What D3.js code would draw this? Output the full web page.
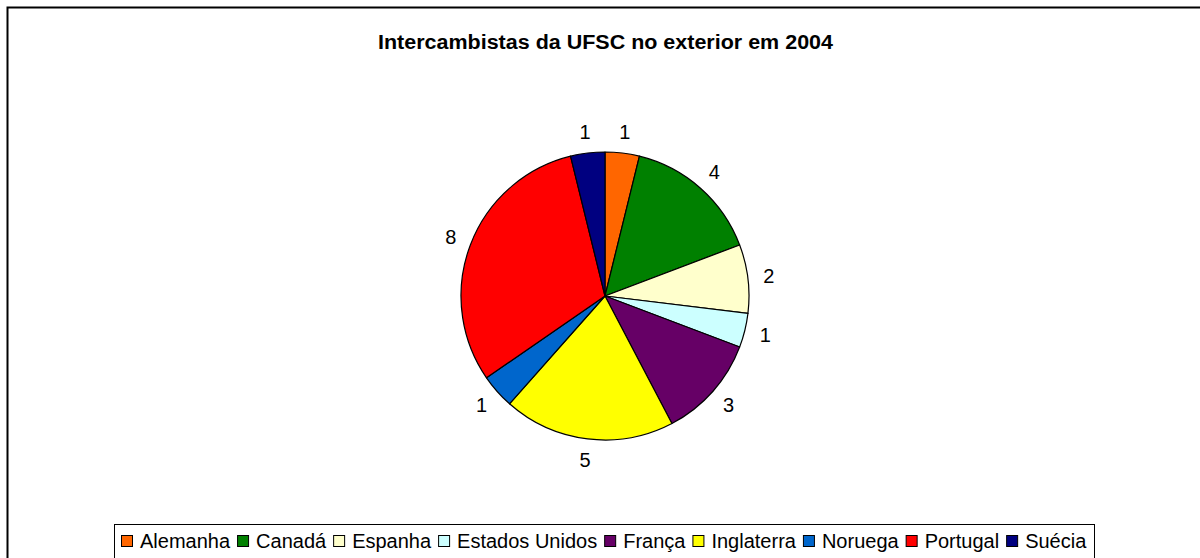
<!DOCTYPE html>
<html>
<head>
<meta charset="utf-8">
<script src="https://cdn.jsdelivr.net/npm/d3@7"></script>
<style>
  body { margin: 0; background: #fff; }
  text { font-family: "Liberation Sans", Arial, sans-serif; fill: #000; }
</style>
</head>
<body>
<div id="chart"></div>
<script>
// data
var countries = ["Alemanha", "Canadá", "Espanha", "Estados Unidos", "França", "Inglaterra", "Noruega", "Portugal", "Suécia"];
var values = [1, 4, 2, 1, 3, 5, 1, 8, 1];
var colors = ["#ff6600", "#008000", "#ffffcc", "#ccffff", "#660066", "#ffff00", "#0066cc", "#ff0000", "#000080"];
var title = "Intercambistas da UFSC no exterior em 2004";

var width = 1200, height = 558;
var cx = 605, cy = 296, radius = 144;

var svg = d3.select("#chart")
  .append("svg")
    .attr("width", width)
    .attr("height", height);

// outer chart frame (runs off the right and bottom)
svg.append("rect")
  .attr("x", 7.5).attr("y", 7.5)
  .attr("width", 1210).attr("height", 600)
  .attr("fill", "#fff")
  .attr("stroke", "#000")
  .attr("stroke-width", 2);

svg.append("text")
  .attr("x", 378).attr("y", 49)
  .attr("textLength", 455)
  .attr("lengthAdjust", "spacingAndGlyphs")
  .style("font-size", "19.5px")
  .style("font-weight", "bold")
  .text(title);

var data = countries.map(function(c, i) { return {name: c, value: values[i], color: colors[i]}; });

var pie = d3.pie()
  .sort(null)
  .value(function(d) { return d.value; });

var arc = d3.arc().innerRadius(0).outerRadius(radius);
var labelArc = d3.arc().innerRadius(radius + 21).outerRadius(radius + 21);

var g = svg.append("g")
  .attr("transform", "translate(" + cx + "," + cy + ")");

var arcs = pie(data);

g.selectAll("path")
  .data(arcs)
  .enter()
  .append("path")
    .attr("d", arc)
    .attr("fill", function(d) { return d.data.color; })
    .attr("stroke", "#000")
    .attr("stroke-width", 1.2)
    .attr("stroke-linejoin", "round");

g.selectAll("text.lbl")
  .data(arcs)
  .enter()
  .append("text")
    .attr("class", "lbl")
    .attr("transform", function(d) { return "translate(" + labelArc.centroid(d) + ")"; })
    .attr("text-anchor", "middle")
    .attr("dy", "0.35em")
    .style("font-size", "20px")
    .text(function(d) { return d.value; });

// legend
var legend = svg.append("g");
legend.append("rect")
  .attr("x", 114.5).attr("y", 524.5)
  .attr("width", 980).attr("height", 60)
  .attr("fill", "#fff")
  .attr("stroke", "#000")
  .attr("stroke-width", 1);

var lx = 121;
data.forEach(function(d) {
  legend.append("rect")
    .attr("x", lx + 0.5).attr("y", 535.5)
    .attr("width", 11).attr("height", 11)
    .attr("fill", d.color)
    .attr("stroke", "#000")
    .attr("stroke-width", 1);
  var t = legend.append("text")
    .attr("x", lx + 19).attr("y", 548)
    .style("font-size", "20px")
    .text(d.name);
  lx += 19 + t.node().getComputedTextLength() + 7;
});
</script>
</body>
</html>
